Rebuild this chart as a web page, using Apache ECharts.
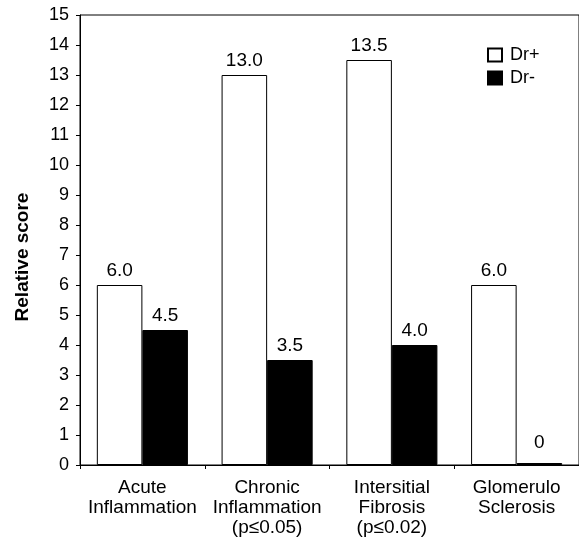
<!DOCTYPE html>
<html>
<head>
<meta charset="utf-8">
<script src="https://cdn.jsdelivr.net/npm/echarts@6/dist/echarts.min.js"></script>
<style>html,body{margin:0;padding:0;background:#fff;}#c{width:579px;height:538px;}</style>
</head>
<body>
<div id="c"></div>
<script>
var categories = ['Acute\nInflammation', 'Chronic\nInflammation\n(p\u22640.05)', 'Intersitial\nFibrosis\n(p\u22640.02)', 'Glomerulo\nSclerosis'];
var drPlus = [6.0, 13.0, 13.5, 6.0];
var drMinus = [4.5, 3.5, 4.0, 0];
var yTicks = [0, 15, 1];

var font = 'Liberation Sans, Arial, Helvetica, sans-serif';
var chart = echarts.init(document.getElementById('c'));
function fmt(p) { return p.value === 0 ? '0' : p.value.toFixed(1); }
chart.setOption({
  animation: false,
  backgroundColor: '#fff',
  textStyle: { fontFamily: font },
  grid: { left: 80, top: 15, width: 504, bottom: 72, show: true, borderColor: '#000', borderWidth: 1, backgroundColor: 'transparent' },
  legend: {
    orient: 'vertical', left: 482, top: 41, itemWidth: 14, itemHeight: 13, itemGap: 5,
    icon: 'rect',
    textStyle: { fontSize: 18, color: '#000', fontFamily: font, padding: [0, 0, 0, 3] },
    data: ['Dr+', 'Dr-']
  },
  graphic: [{
    type: 'text', x: 23, y: 257, rotation: Math.PI / 2,
    style: { text: 'Relative score', font: 'bold 19px ' + font, fill: '#000', align: 'center', verticalAlign: 'middle' }
  }],
  xAxis: {
    type: 'category', data: categories,
    axisLine: { lineStyle: { color: '#000', width: 1 } },
    axisTick: { show: true, length: 4, lineStyle: { color: '#000' } },
    axisLabel: { color: '#000', fontSize: 19, lineHeight: 20, margin: 13, interval: 0, fontFamily: font }
  },
  yAxis: {
    type: 'value', min: yTicks[0], max: yTicks[1], interval: yTicks[2],
    axisLine: { show: true, lineStyle: { color: '#000', width: 1 } },
    axisTick: { show: true, length: 4, lineStyle: { color: '#000' } },
    axisLabel: { color: '#000', fontSize: 18, margin: 11, fontFamily: font },
    splitLine: { show: false }
  },
  series: [
    {
      name: 'Dr+', type: 'bar', data: drPlus, barGap: '0%', barCategoryGap: '27%',
      itemStyle: { color: '#fff', borderColor: '#000', borderWidth: 1 },
      label: { show: true, position: 'top', distance: 5, color: '#000', fontSize: 19, formatter: fmt, fontFamily: font }
    },
    {
      name: 'Dr-', type: 'bar', data: drMinus, barMinHeight: 2,
      itemStyle: { color: '#000', borderColor: '#000', borderWidth: 1 },
      label: {
        show: true, position: 'top', color: '#000', fontSize: 19, fontFamily: font,
        formatter: fmt,
        distance: 5
      },
      labelLayout: function (p) { return p.dataIndex === 3 ? { dy: -6 } : {}; }
    }
  ]
});
</script>
</body>
</html>
